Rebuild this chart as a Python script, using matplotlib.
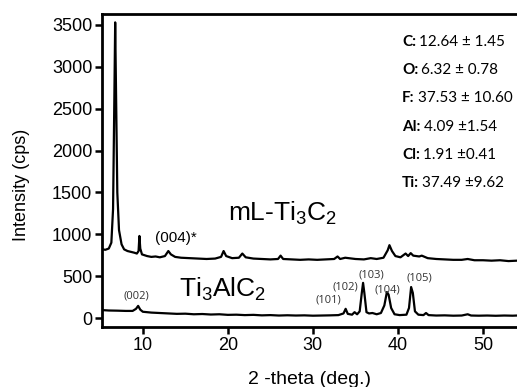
import matplotlib
matplotlib.use("Agg")
import matplotlib.pyplot as plt

# XRD traces (2-theta in deg, intensity in cps)
ml_theta = [5.2, 5.6, 6.0, 6.3, 6.5, 6.65, 6.75, 6.85, 7.0, 7.2, 7.5, 7.8, 8.2, 8.6,
            9.0, 9.3, 9.5, 9.6, 9.7, 9.9, 10.5, 11.0, 11.5, 12.0, 12.6, 13.0, 13.3,
            13.8, 14.5, 15.5, 16.5, 17.5, 18.5, 19.2, 19.5, 19.8, 20.5, 21.3, 21.7,
            22.1, 23.0, 24.0, 25.0, 25.9, 26.2, 26.5, 27.5, 28.5, 29.5, 30.5, 31.5,
            32.5, 32.9, 33.2, 33.8, 34.2, 35.0, 36.0, 36.8, 37.5, 38.3, 38.8, 39.0,
            39.3, 39.7, 40.3, 40.9, 41.2, 41.5, 41.8, 42.5, 42.8, 43.5, 44.5, 45.5,
            46.5, 47.5, 48.2, 49.0, 50.0, 51.0, 52.0, 53.0, 54.0]
ml_counts = [820, 815, 830, 900, 1300, 2600, 3530, 2700, 1500, 1050, 880, 820, 800, 790,
             780, 770, 800, 980, 830, 760, 740, 730, 735, 725, 740, 800, 760,
             730, 720, 715, 710, 705, 710, 730, 800, 740, 715, 720, 770,
             725, 710, 705, 700, 705, 745, 705, 700, 695, 700, 695, 700,
             705, 735, 705, 720, 715, 705, 700, 715, 705, 720, 810, 870,
             800, 740, 725, 770, 740, 775, 745, 735, 745, 715, 705, 700,
             695, 695, 705, 690, 690, 685, 690, 680, 685]

max_theta = [5.2, 6.0, 7.0, 8.0, 8.8, 9.2, 9.45, 9.7, 10.0, 11.0, 12.0, 13.0, 14.0,
             15.0, 16.0, 17.0, 18.0, 19.0, 20.0, 21.0, 22.0, 23.0, 24.0, 25.0, 26.0,
             27.0, 28.0, 29.0, 30.0, 31.0, 32.0, 33.0, 33.6, 33.85, 34.1, 34.6, 34.9,
             35.2, 35.5, 35.75, 35.9, 36.05, 36.3, 36.6, 37.0, 37.5, 38.0, 38.4, 38.7,
             38.9, 39.2, 39.6, 40.2, 41.0, 41.3, 41.55, 41.75, 42.0, 42.4, 43.0, 43.3,
             43.6, 44.5, 45.5, 46.5, 47.5, 48.2, 48.6, 49.5, 50.5, 51.5, 52.5, 53.5, 54.0]
max_counts = [95, 90, 88, 85, 85, 110, 145, 100, 75, 65, 60, 55, 50,
              52, 45, 48, 42, 45, 38, 40, 35, 38, 32, 35, 30,
              33, 30, 32, 28, 30, 32, 35, 55, 110, 50, 40, 70,
              45, 80, 300, 420, 300, 70, 55, 60, 45, 60, 150, 310,
              280, 120, 45, 35, 40, 120, 370, 300, 80, 40, 35, 60,
              35, 30, 32, 28, 30, 45, 30, 28, 30, 27, 30, 28, 30]

peak_labels = ["(002)", "(101)", "(102)", "(103)", "(104)", "(105)"]
peak_x = [9.3, 31.8, 33.8, 36.9, 38.8, 42.5]
peak_y = [260, 210, 370, 510, 340, 480]

elements = ["C:", "O:", "F:", "Al:", "Cl:", "Ti:"]
amounts = ["12.64 \u00b1 1.45", "6.32 \u00b1 0.78", "37.53 \u00b1 10.60",
           "4.09 \u00b11.54", "1.91 \u00b10.41", "37.49 \u00b19.62"]

plt.rcParams['font.family'] = ['Liberation Sans', 'DejaVu Sans']
plt.rcParams['mathtext.fontset'] = 'custom'
plt.rcParams['mathtext.rm'] = 'Liberation Sans'
plt.rcParams['mathtext.it'] = 'Liberation Sans'

fig = plt.figure(figsize=(5.17, 3.87), dpi=100)
ax = fig.add_axes([102 / 517, 60 / 387, 1 - 102 / 517, (327 - 14) / 387])

ax.plot(ml_theta, ml_counts, color="black", lw=1.6)
ax.plot(max_theta, max_counts, color="black", lw=1.6)

ax.set_xlim(5.2, 54.0)
ax.set_ylim(-107, 3630)
ax.set_xticks([10, 20, 30, 40, 50])
ax.set_yticks([0, 500, 1000, 1500, 2000, 2500, 3000, 3500])
ax.tick_params(direction="out", length=5, width=1.8, labelsize=13, pad=2)
for side in ["left", "bottom", "top"]:
    ax.spines[side].set_linewidth(2)
ax.spines["right"].set_visible(False)

ax.set_xlabel("2 -theta (deg.)", fontsize=14)
ax.set_ylabel("Intensity (cps)", fontsize=13)
ax.xaxis.set_label_coords(0.5, -0.14)
ax.yaxis.set_label_coords(-0.173, 0.455)

ax.text(20.0, 1250, "mL-Ti$_3$C$_2$", fontsize=19, va="center")
ax.text(14.2, 340, "Ti$_3$AlC$_2$", fontsize=19, va="center")
ax.text(13.9, 950, "(004)*", fontsize=11, ha="center", va="center")
for lab, x, y in zip(peak_labels, peak_x, peak_y):
    ax.text(x, y, lab, fontsize=8, ha="center", va="center", family="Open Sans", color="#333333")

fig.canvas.draw()
renderer = fig.canvas.get_renderer()
y0 = 3300
for i, (el, val) in enumerate(zip(elements, amounts)):
    y = y0 - i * 338
    t = ax.text(40.5, y, el, fontsize=11, fontweight="bold", family="Lato", va="center")
    bb = t.get_window_extent(renderer)
    xd = ax.transData.inverted().transform((bb.x1 + 3, 0))[0]
    ax.text(xd, y, val, fontsize=11, family="Lato", va="center")

fig.savefig("out.png", dpi=100)
